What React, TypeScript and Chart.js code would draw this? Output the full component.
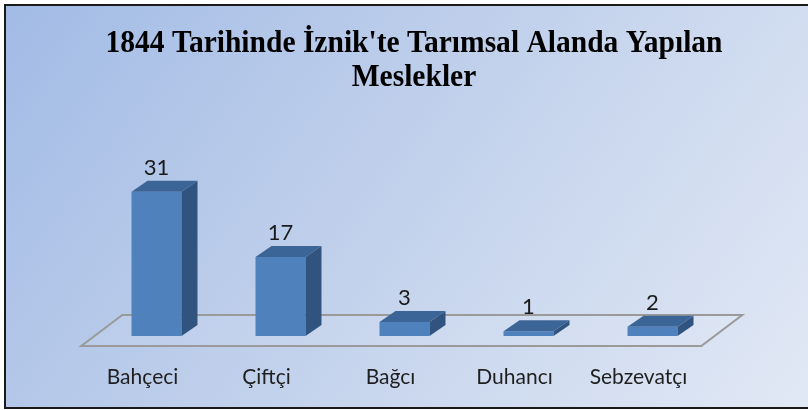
import { useEffect, useRef } from "react";
import { Chart, registerables } from "chart.js";

Chart.register(...registerables);

const TITLE_LINES = ["1844 Tarihinde İznik'te Tarımsal Alanda Yapılan", "Meslekler"];
const CATEGORIES = ["Bahçeci", "Çiftçi", "Bağcı", "Duhancı", "Sebzevatçı"];
const VALUES = [31, 17, 3, 1, 2];
const Y_MAX = 35;

const BAR_DEPTH = { dx: 16, dy: -11 };
const FLOOR_FRONT = 10;
const FLOOR_BACK = -21;
const FLOOR_SLOPE = 41 / 31;

const excel3d = {
  id: "excel3d",
  beforeDraw(chart: any) {
    const { ctx, width, height } = chart;
    ctx.save();
    ctx.fillStyle = "#ffffff";
    ctx.fillRect(0, 0, width, height);
    const g = ctx.createLinearGradient(6, 6, width * 0.9, height * 1.3);
    g.addColorStop(0, "#a2bbe5");
    g.addColorStop(0.5, "#c3d2ec");
    g.addColorStop(1, "#e2e9f5");
    ctx.fillStyle = g;
    ctx.fillRect(6, 6, width - 6, 402);
    ctx.strokeStyle = "#1a1a1a";
    ctx.lineWidth = 2;
    ctx.beginPath();
    ctx.moveTo(width, 5);
    ctx.lineTo(5, 5);
    ctx.lineTo(5, 408);
    ctx.lineTo(width, 408);
    ctx.stroke();
    ctx.restore();
  },
  beforeDatasetsDraw(chart: any) {
    const { ctx } = chart;
    const { left, right, bottom } = chart.chartArea;
    const fy = bottom + FLOOR_FRONT;
    const by = bottom + FLOOR_BACK;
    const fdx = -FLOOR_FRONT * FLOOR_SLOPE;
    const bdx = -FLOOR_BACK * FLOOR_SLOPE;
    ctx.save();
    ctx.beginPath();
    ctx.moveTo(left + fdx, fy);
    ctx.lineTo(right + fdx, fy);
    ctx.lineTo(right + bdx, by);
    ctx.lineTo(left + bdx, by);
    ctx.closePath();
    ctx.fillStyle = "rgba(255,255,255,0.08)";
    ctx.fill();
    ctx.strokeStyle = "#9a9a9a";
    ctx.lineWidth = 2;
    ctx.stroke();
    ctx.restore();
  },
  afterDatasetsDraw(chart: any) {
    const { ctx } = chart;
    const meta = chart.getDatasetMeta(0);
    ctx.save();
    meta.data.forEach((el: any, i: number) => {
      const { x, y, base, width } = el.getProps(["x", "y", "base", "width"], true);
      const l = x - width / 2;
      const r = x + width / 2;
      const { dx, dy } = BAR_DEPTH;
      ctx.fillStyle = "#30537f";
      ctx.beginPath();
      ctx.moveTo(r, y);
      ctx.lineTo(r + dx, y + dy);
      ctx.lineTo(r + dx, base + dy);
      ctx.lineTo(r, base);
      ctx.closePath();
      ctx.fill();
      ctx.fillStyle = "#3c6597";
      ctx.beginPath();
      ctx.moveTo(l, y);
      ctx.lineTo(r, y);
      ctx.lineTo(r + dx, y + dy);
      ctx.lineTo(l + dx, y + dy);
      ctx.closePath();
      ctx.fill();
      ctx.fillStyle = "#1a1a1a";
      ctx.font = "22px Lato";
      ctx.textAlign = "center";
      ctx.textBaseline = "alphabetic";
      ctx.fillText(String(VALUES[i]), x, y - 17);
    });
    const xs = chart.scales.x;
    ctx.fillStyle = "#1f1f1f";
    ctx.font = "21px Lato";
    ctx.textAlign = "center";
    ctx.textBaseline = "middle";
    CATEGORIES.forEach((c, i) => {
      ctx.fillText(c, xs.getPixelForValue(i) - 14, 377);
    });
    ctx.restore();
  },
  afterDraw(chart: any) {
    const { ctx } = chart;
    ctx.save();
    ctx.font = "bold 31px 'Liberation Serif'";
    ctx.fillStyle = "#000000";
    ctx.textAlign = "center";
    ctx.textBaseline = "alphabetic";
    const w = ctx.measureText(TITLE_LINES[0]).width;
    const sx = 617 / w;
    const cx = 414;
    const baselines = [52, 86];
    TITLE_LINES.forEach((t, i) => {
      ctx.save();
      ctx.translate(cx, baselines[i]);
      ctx.scale(sx, 1);
      ctx.fillText(t, 0, 0);
      ctx.restore();
    });
    ctx.restore();
  },
};

export default function App() {
  const ref = useRef<HTMLCanvasElement>(null);
  useEffect(() => {
    document.body.style.margin = "0";
    const canvas = ref.current!;
    const chart = new Chart(canvas, {
      type: "bar",
      data: {
        labels: CATEGORIES,
        datasets: [
          {
            data: VALUES,
            backgroundColor: "#4f81bd",
            borderWidth: 0,
            barPercentage: 0.403,
            categoryPercentage: 1,
          },
        ],
      },
      options: {
        responsive: false,
        animation: false,
        devicePixelRatio: 1,
        layout: { padding: { top: 336 - Y_MAX * 4.65, bottom: 74, left: 94.5, right: 93.5 } },
        scales: {
          x: { display: false },
          y: { display: false, min: 0, max: Y_MAX },
        },
        plugins: {
          legend: { display: false },
          title: { display: false },
          tooltip: { enabled: false },
        },
      },
      plugins: [excel3d],
    });
    return () => chart.destroy();
  }, []);
  return (
    <div style={{ width: 808, height: 410 }}>
      <canvas ref={ref} width={808} height={410} style={{ display: "block" }} />
    </div>
  );
}
